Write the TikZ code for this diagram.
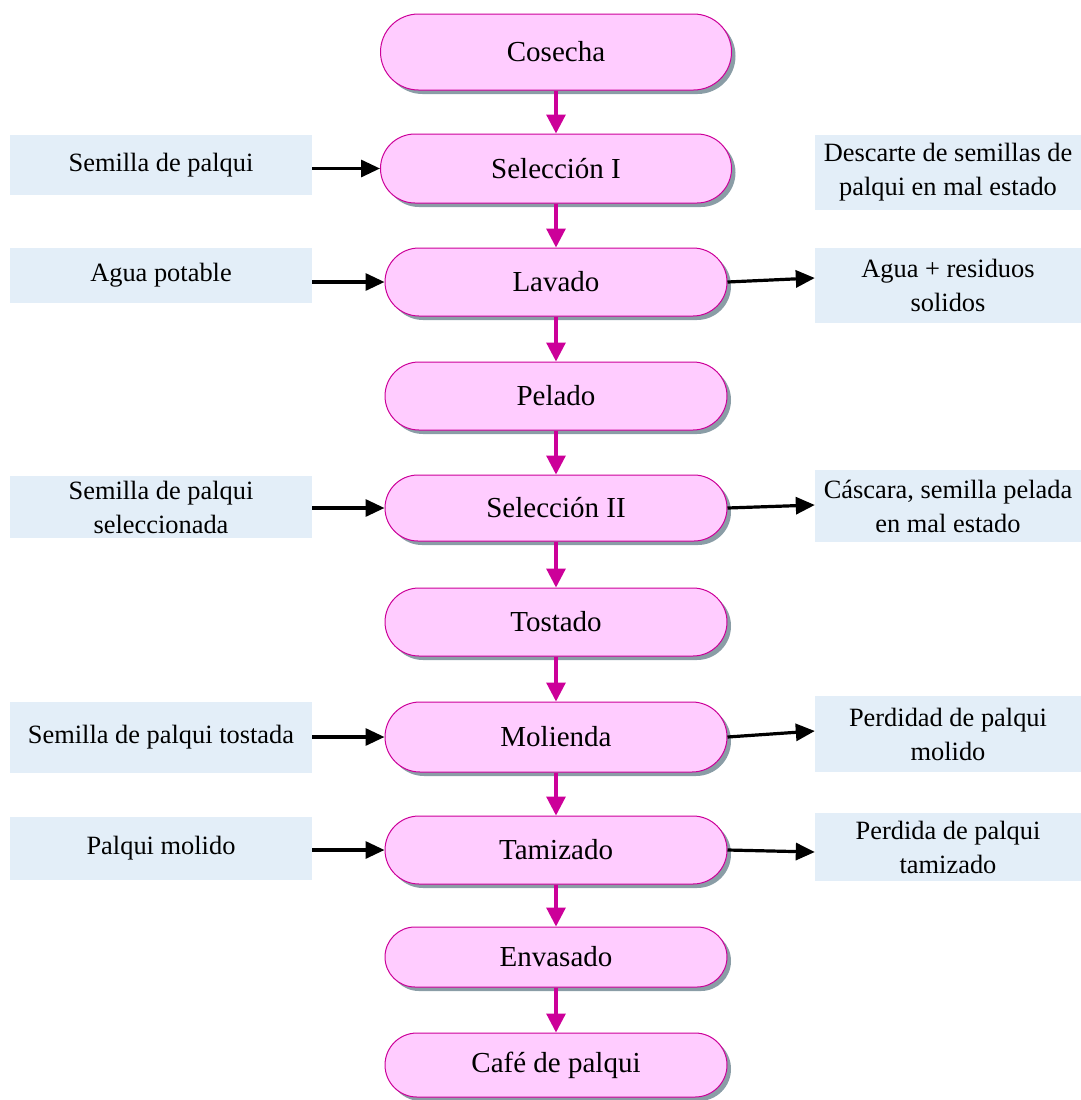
\documentclass[tikz,border=0pt]{standalone}
\usepackage{fontspec}
\setmainfont{Liberation Serif}
\usetikzlibrary{shapes.misc,shadows,arrows.meta}
\definecolor{procfill}{HTML}{FFCCFF}
\definecolor{procdraw}{HTML}{CC0099}
\definecolor{shade}{HTML}{8A9DA6}
\definecolor{sidefill}{HTML}{E3EEF8}
\definecolor{flow}{HTML}{CC0099}
\begin{document}
\begin{tikzpicture}[x=1pt,y=-1pt,
  proc/.style={rounded rectangle, draw=procdraw, line width=1pt, fill=procfill,
    minimum width=342pt, minimum height=68pt, inner sep=0pt,
    font=\fontsize{29}{34}\selectfont,
    drop shadow={shadow xshift=4pt, shadow yshift=-4pt, fill=shade, opacity=1}},
  side/.style={rectangle, fill=sidefill, inner sep=0pt, align=center,
    font=\fontsize{26.4}{34}\selectfont},
  lside/.style={side, minimum width=302pt},
  rside/.style={side, minimum width=266pt},
  flowarrow/.style={draw=flow, line width=3.2pt, -{Triangle[length=19pt,width=19pt]}},
  iolink/.style={draw=black, line width=3.2pt, -{Triangle[length=19pt,width=17pt]}}]
\useasboundingbox (0,0) rectangle (1081,1100);

% main process steps
\node[proc, minimum width=351pt, minimum height=76pt] (cos) at (556,52) {Cosecha};
\node[proc, minimum width=351pt, minimum height=69pt] (sel1) at (556,168.5) {Selección I};
\node[proc] (lav) at (556,282) {Lavado};
\node[proc] (pel) at (556,396) {Pelado};
\node[proc, minimum height=66pt] (sel2) at (556,508) {Selección II};
\node[proc] (tos) at (556,622) {Tostado};
\node[proc, minimum height=70pt] (mol) at (556,737) {Molienda};
\node[proc] (tam) at (556,850) {Tamizado};
\node[proc, minimum height=60pt] (env) at (556,957) {Envasado};
\node[proc, minimum height=64pt] (caf) at (556,1065) {Café de palqui};

% inputs
\node[lside, minimum height=60pt] (in1) at (161,165) {Semilla de palqui};
\node[lside, minimum height=55pt] (in2) at (161,275.5) {Agua potable};
\node[lside, minimum height=62pt] (in3) at (161,507) {Semilla de palqui\\seleccionada};
\node[lside, minimum height=71pt] (in4) at (161,737.5) {Semilla de palqui tostada};
\node[lside, minimum height=63pt] (in5) at (161,848.5) {Palqui molido};

% outputs
\node[rside, minimum height=75pt] (out1) at (948,172.5) {Descarte de semillas de\\palqui en mal estado};
\node[rside, minimum height=75pt] (out2) at (948,285.5) {Agua + residuos\\solidos};
\node[rside, minimum height=72pt] (out3) at (948,506) {Cáscara, semilla pelada\\en mal estado};
\node[rside, minimum height=76pt] (out4) at (948,734) {Perdidad de palqui\\molido};
\node[rside, minimum height=68pt] (out5) at (948,847) {Perdida de palqui\\tamizado};

% process flow
\draw[flowarrow] (cos.south) -- (sel1.north);
\draw[flowarrow] (sel1.south) -- (lav.north);
\draw[flowarrow] (lav.south) -- (pel.north);
\draw[flowarrow] (pel.south) -- (sel2.north);
\draw[flowarrow] (sel2.south) -- (tos.north);
\draw[flowarrow] (tos.south) -- (mol.north);
\draw[flowarrow] (mol.south) -- (tam.north);
\draw[flowarrow] (tam.south) -- (env.north);
\draw[flowarrow] (env.south) -- (caf.north);

% input links
\draw[iolink] (in1.east |- sel1.west) -- (sel1.west);
\draw[iolink] (in2.east |- lav.west) -- (lav.west);
\draw[iolink] (in3.east |- sel2.west) -- (sel2.west);
\draw[iolink] (in4.east |- mol.west) -- (mol.west);
\draw[iolink] (in5.east |- tam.west) -- (tam.west);

% output links
\draw[iolink] (lav.east) -- ([yshift=7.5pt]out2.west);
\draw[iolink] (sel2.east) -- ([yshift=1pt]out3.west);
\draw[iolink] (mol.east) -- ([yshift=3pt]out4.west);
\draw[iolink] (tam.east) -- ([yshift=-5pt]out5.west);
\end{tikzpicture}
\end{document}
